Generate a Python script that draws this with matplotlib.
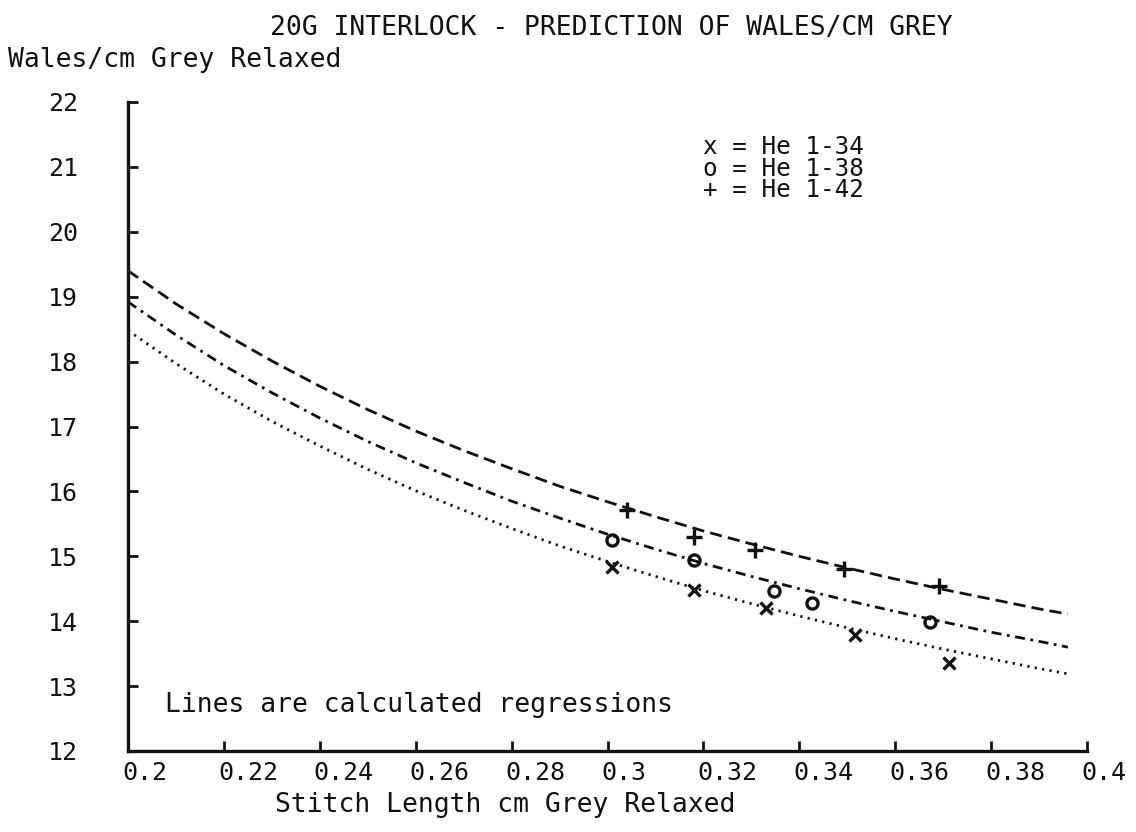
import matplotlib
matplotlib.use("Agg")
import matplotlib.pyplot as plt
from matplotlib.transforms import offset_copy

# Measured fabric samples: stitch length (cm) vs wales/cm, grey relaxed
stitch_34 = [0.3010, 0.3180, 0.3330, 0.3516, 0.3712]
wales_34 = [14.83, 14.48, 14.20, 13.78, 13.35]
stitch_38 = [0.3010, 0.3180, 0.3347, 0.3427, 0.3673]
wales_38 = [15.25, 14.95, 14.47, 14.28, 13.99]
stitch_42 = [0.3041, 0.3180, 0.3307, 0.3493, 0.3692]
wales_42 = [15.71, 15.29, 15.10, 14.81, 14.54]

# Regression curves, sampled along the stitch length range
curve_stitch = [0.20, 0.21, 0.22, 0.23, 0.24, 0.25, 0.26, 0.27, 0.28, 0.29,
                0.30, 0.31, 0.32, 0.33, 0.34, 0.35, 0.36, 0.37, 0.38, 0.39, 0.396]
curve_34 = [18.48, 17.97, 17.50, 17.08, 16.70, 16.34, 16.01, 15.71, 15.43, 15.16,
            14.92, 14.69, 14.47, 14.27, 14.08, 13.90, 13.73, 13.57, 13.42, 13.27, 13.19]
curve_38 = [18.92, 18.41, 17.94, 17.52, 17.13, 16.77, 16.44, 16.14, 15.85, 15.59,
            15.34, 15.11, 14.89, 14.69, 14.50, 14.32, 14.15, 13.99, 13.83, 13.69, 13.60]
curve_42 = [19.40, 18.89, 18.43, 18.01, 17.62, 17.26, 16.93, 16.63, 16.35, 16.08,
            15.84, 15.61, 15.39, 15.19, 15.00, 14.82, 14.65, 14.49, 14.34, 14.19, 14.11]

x_ticks = [0.20, 0.22, 0.24, 0.26, 0.28, 0.30, 0.32, 0.34, 0.36, 0.38, 0.40]
x_tick_labels = ["0.2", "0.22", "0.24", "0.26", "0.28", "0.3", "0.32", "0.34", "0.36", "0.38", "0.4"]
y_ticks = [12, 13, 14, 15, 16, 17, 18, 19, 20, 21, 22]
key_lines = ["x = He 1-34", "o = He 1-38", "+ = He 1-42"]

FONT = "DejaVu Sans Mono"
FS = 19
INK = "#111111"

plt.rcParams["font.family"] = FONT

fig = plt.figure(figsize=(11.36, 8.32), dpi=100)
ax = fig.add_axes([128 / 1136, 1 - 751 / 832, (1087 - 128) / 1136, (751 - 102) / 832])

# regression lines
ax.plot(curve_stitch, curve_34, color=INK, lw=2.0, linestyle=(0, (0.8, 1.9)))
ax.plot(curve_stitch, curve_38, color=INK, lw=2.0, linestyle=(0, (3.6, 2.0, 1, 2.0)))
ax.plot(curve_stitch, curve_42, color=INK, lw=2.0, linestyle=(0, (4.4, 2.2)))

# measured points
ax.plot(stitch_34, wales_34, linestyle="none", marker="x", ms=9, mew=2.4, color=INK)
ax.plot(stitch_38, wales_38, linestyle="none", marker="o", ms=8, mew=2.4,
        markerfacecolor="none", markeredgecolor=INK)
ax.plot(stitch_42, wales_42, linestyle="none", marker="+", ms=11, mew=2.4, color=INK)

ax.set_xlim(0.2, 0.4)
ax.set_ylim(12, 22)
ax.set_xticks(x_ticks)
ax.set_xticklabels([])
ax.set_yticks(y_ticks)
ax.set_yticklabels([str(v) for v in y_ticks])

for side in ("top", "right"):
    ax.spines[side].set_visible(False)
for side in ("left", "bottom"):
    ax.spines[side].set_linewidth(2.4)
    ax.spines[side].set_color(INK)

ax.tick_params(axis="both", direction="in", length=7, width=2.0, color=INK,
               labelsize=FS - 1, labelcolor=INK)
ax.tick_params(axis="y", pad=36)

# x tick labels sit just left of their tick, starting at the tick mark
xlab_trans = offset_copy(ax.get_xaxis_transform(), fig=fig, x=-6, y=-10, units="dots")
for pos, lbl in zip(x_ticks, x_tick_labels):
    ax.text(pos, 0, lbl, transform=xlab_trans, fontsize=FS - 1, color=INK,
            ha="left", va="top", clip_on=False)

# key and note inside the plot area
for i, line in enumerate(key_lines):
    ax.text(0.3200, 21.31 - 0.335 * i, line, fontsize=FS - 1.5, color=INK,
            va="center", ha="left")
ax.text(0.2077, 12.71, "Lines are calculated regressions", fontsize=FS, color=INK,
        va="center", ha="left")

fig.text(270 / 1136, 1 - 28 / 832, "20G INTERLOCK - PREDICTION OF WALES/CM GREY",
         fontsize=FS, color=INK, va="center", ha="left")
fig.text(8 / 1136, 1 - 60 / 832, "Wales/cm Grey Relaxed", fontsize=FS, color=INK,
         va="center", ha="left")
fig.text(275 / 1136, 1 - 805 / 832, "Stitch Length cm Grey Relaxed", fontsize=FS,
         color=INK, va="center", ha="left")

fig.savefig("out.png", dpi=100, facecolor="white")
